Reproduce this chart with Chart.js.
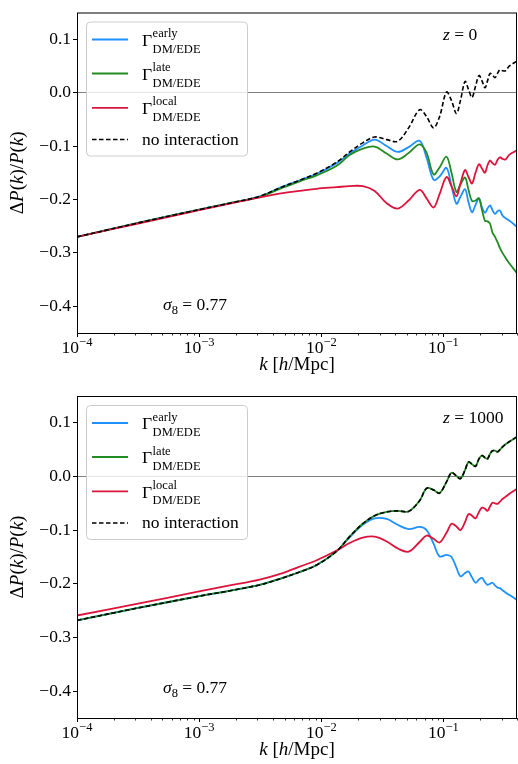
<!DOCTYPE html>
<html>
<head>
<meta charset="utf-8">
<script src="https://cdn.jsdelivr.net/npm/chart.js@4.4.1/dist/chart.umd.min.js"></script>
<style>
  body { margin: 0; background: #fff; }
  canvas { display: block; }
</style>
</head>
<body>
<canvas id="chart_z0" width="518" height="382"></canvas>
<canvas id="chart_z1000" width="518" height="382"></canvas>
<script>
/* data: k [h/Mpc] and dP/P for each curve */
const kVals = [0.0001, 0.000316, 0.001, 0.00178, 0.00313, 0.00483, 0.00665, 0.00916, 0.01337, 0.01706,
  0.02183, 0.02735, 0.03428, 0.04217, 0.05188, 0.06383, 0.07278, 0.08299, 0.0929, 0.1059,
  0.1164, 0.1277, 0.1377, 0.1502, 0.1603, 0.1713, 0.183, 0.1954, 0.2068, 0.2188,
  0.2294, 0.2404, 0.2519, 0.2642, 0.2769, 0.2901, 0.3042, 0.322, 0.3471, 0.4];

// z = 0
const early_z0 = [-0.270, -0.244, -0.219, -0.207, -0.194, -0.176, -0.164, -0.152, -0.132, -0.114,
  -0.099, -0.088, -0.100, -0.111, -0.102, -0.090, -0.122, -0.163, -0.157, -0.141,
  -0.175, -0.208, -0.195, -0.181, -0.205, -0.224, -0.210, -0.198, -0.215, -0.225,
  -0.217, -0.211, -0.220, -0.227, -0.222, -0.221, -0.230, -0.235, -0.240, -0.251];
const late_z0 = [-0.270, -0.244, -0.219, -0.207, -0.195, -0.178, -0.166, -0.155, -0.137, -0.117,
  -0.105, -0.101, -0.114, -0.125, -0.113, -0.097, -0.113, -0.153, -0.140, -0.120,
  -0.150, -0.186, -0.172, -0.159, -0.182, -0.203, -0.202, -0.198, -0.220, -0.240,
  -0.241, -0.245, -0.262, -0.270, -0.280, -0.291, -0.300, -0.309, -0.320, -0.338];
const local_z0 = [-0.270, -0.245, -0.220, -0.208, -0.196, -0.188, -0.184, -0.180, -0.177, -0.175,
  -0.175, -0.184, -0.207, -0.217, -0.202, -0.182, -0.198, -0.215, -0.190, -0.158,
  -0.175, -0.194, -0.170, -0.145, -0.158, -0.170, -0.150, -0.134, -0.142, -0.150,
  -0.136, -0.127, -0.132, -0.135, -0.126, -0.121, -0.124, -0.125, -0.116, -0.108];
const none_z0 = [-0.270, -0.244, -0.219, -0.207, -0.194, -0.176, -0.164, -0.151, -0.130, -0.111,
  -0.094, -0.083, -0.088, -0.091, -0.066, -0.032, -0.045, -0.066, -0.045, 0.001,
  -0.015, -0.039, -0.015, 0.021, 0.006, -0.009, 0.012, 0.032, 0.022, 0.009,
  0.022, 0.036, 0.033, 0.028, 0.036, 0.043, 0.041, 0.041, 0.050, 0.059];

// z = 1000
const early_z1000 = [-0.268, -0.245, -0.223, -0.213, -0.202, -0.189, -0.178, -0.165, -0.139, -0.113,
  -0.090, -0.078, -0.079, -0.090, -0.098, -0.094, -0.100, -0.125, -0.149, -0.146,
  -0.150, -0.170, -0.186, -0.180, -0.177, -0.188, -0.198, -0.192, -0.189, -0.197,
  -0.202, -0.200, -0.198, -0.203, -0.207, -0.208, -0.212, -0.216, -0.221, -0.230];
const late_z1000 = [-0.268, -0.245, -0.223, -0.213, -0.202, -0.189, -0.178, -0.165, -0.139, -0.112,
  -0.088, -0.073, -0.066, -0.064, -0.065, -0.045, -0.022, -0.025, -0.031, -0.010,
  0.007, 0.001, -0.004, 0.012, 0.027, 0.023, 0.019, 0.033, 0.039, 0.035,
  0.033, 0.042, 0.048, 0.048, 0.046, 0.050, 0.055, 0.060, 0.065, 0.074];
const local_z1000 = [-0.259, -0.237, -0.214, -0.203, -0.192, -0.180, -0.168, -0.156, -0.138, -0.124,
  -0.114, -0.112, -0.121, -0.134, -0.140, -0.122, -0.110, -0.116, -0.123, -0.105,
  -0.088, -0.093, -0.100, -0.085, -0.070, -0.073, -0.078, -0.066, -0.058, -0.060,
  -0.064, -0.056, -0.049, -0.050, -0.051, -0.047, -0.042, -0.038, -0.032, -0.023];
const none_z1000 = [-0.268, -0.245, -0.223, -0.213, -0.202, -0.189, -0.178, -0.165, -0.139, -0.112,
  -0.088, -0.073, -0.066, -0.064, -0.065, -0.045, -0.022, -0.025, -0.031, -0.010,
  0.007, 0.001, -0.004, 0.012, 0.027, 0.023, 0.019, 0.033, 0.039, 0.035,
  0.033, 0.042, 0.048, 0.048, 0.046, 0.050, 0.055, 0.060, 0.065, 0.074];

const yTickVals = [-0.4, -0.3, -0.2, -0.1, 0, 0.1];
const xMajorVals = [1e-4, 1e-3, 1e-2, 1e-1];
const xMajorExp = ['\u22124', '\u22123', '\u22122', '\u22121'];
const legendSup = ['early', 'late', 'local'];

const SERIF = "'Liberation Serif', 'DejaVu Serif', serif";
const BLUE = '#1E90FF', GREEN = '#228B22', RED = '#DC143C';
const F = (size, italic) => (italic ? 'italic ' : '') + size + 'px ' + SERIF;

// minor ticks 2..9 x 10^n inside the axis range
var xTickVals = [];
xMajorVals.forEach(function (m) {
  for (var j = 1; j <= 9; j++) {
    var v = +(m * j).toPrecision(3);
    if (v <= 0.4) xTickVals.push(v);
  }
});

function toXY(arr) {
  return kVals.map((k, i) => ({ x: k, y: arr[i] }));
}

// draw runs of text one after another: [text, font, dy]
function drawRuns(ctx, runs, x, y, center) {
  var w = 0;
  runs.forEach(r => { ctx.font = r[1]; w += ctx.measureText(r[0]).width; });
  var cx = center ? x - w / 2 : x;
  runs.forEach(r => {
    ctx.font = r[1];
    ctx.fillText(r[0], cx, y + (r[2] || 0));
    cx += ctx.measureText(r[0]).width;
  });
}

const panelDecor = {
  id: 'panelDecor',
  afterDraw(chart, args, opts) {
    const ctx = chart.ctx;
    const a = chart.chartArea;
    const xs = chart.scales.x;
    ctx.save();
    ctx.fillStyle = '#000';
    ctx.strokeStyle = '#000';
    ctx.textBaseline = 'alphabetic';
    ctx.textAlign = 'left';

    // frame
    ctx.lineWidth = 1;
    ctx.strokeRect(a.left + 0.5, a.top + 0.5, a.right - a.left - 1, a.bottom - a.top);

    // x ticks
    xTickVals.forEach(v => {
      var px = Math.round(xs.getPixelForValue(v)) + 0.5;
      var major = xMajorVals.indexOf(v) >= 0;
      ctx.lineWidth = major ? 1 : 0.8;
      ctx.beginPath();
      ctx.moveTo(px, a.bottom);
      ctx.lineTo(px, a.bottom + (major ? 4 : 2.5));
      ctx.stroke();
    });
    xMajorVals.forEach((v, i) => {
      var px = xs.getPixelForValue(v);
      drawRuns(ctx, [['10', F(17.5), 0], [xMajorExp[i], F(12.5), -7]], px, a.bottom + 20, true);
    });

    // axis titles
    drawRuns(ctx, [['k', F(19, true)], [' [', F(19)], ['h', F(19, true)], ['/Mpc]', F(19)]],
      (a.left + a.right) / 2, a.bottom + 37, true);
    ctx.save();
    ctx.translate(23, (a.top + a.bottom) / 2);
    ctx.rotate(-Math.PI / 2);
    drawRuns(ctx, [['\u0394', F(19)], ['P', F(19, true)], ['(', F(19)], ['k', F(19, true)], [')/', F(19)],
      ['P', F(19, true)], ['(', F(19)], ['k', F(19, true)], [')', F(19)]], 0, 0, true);
    ctx.restore();

    // annotations
    drawRuns(ctx, [['z', F(17.5, true)], [' = ' + opts.zLabel, F(17.5)]], a.left + 366, a.top + 27);
    drawRuns(ctx, [['\u03c3', F(17.5, true)], ['8', F(12.5), 4], [' = 0.77', F(17.5)]], a.left + 86, a.top + 297);

    // legend
    var bx = a.left + 9, by = a.top + 9, bw = 161, bh = 134, r = 4;
    ctx.beginPath();
    ctx.roundRect(bx + 0.5, by + 0.5, bw, bh, r);
    ctx.fillStyle = 'rgba(255,255,255,0.8)';
    ctx.fill();
    ctx.strokeStyle = '#cccccc';
    ctx.lineWidth = 1;
    ctx.stroke();

    var rows = [27, 61, 95.3, 127];
    var cols = [BLUE, GREEN, RED];
    ctx.fillStyle = '#000';
    rows.forEach((ry, i) => {
      var ly = a.top + ry;
      ctx.beginPath();
      ctx.strokeStyle = i < 3 ? cols[i] : '#000';
      ctx.lineWidth = i < 3 ? 1.8 : 1.6;
      ctx.setLineDash(i < 3 ? [] : [4.5, 2.5]);
      ctx.moveTo(a.left + 15, ly);
      ctx.lineTo(a.left + 51, ly);
      ctx.stroke();
      ctx.setLineDash([]);
      var tx = a.left + 65;
      if (i < 3) {
        ctx.font = F(17.5);
        ctx.fillText('\u0393', tx, ly + 6.3);
        var gx = tx + ctx.measureText('\u0393').width + 0.5;
        ctx.font = F(12.5);
        ctx.fillText(legendSup[i], gx, ly - 2.5);
        ctx.fillText('DM/EDE', gx, ly + 13);
      } else {
        ctx.font = F(17.5);
        ctx.fillText('no interaction', tx, ly + 5);
      }
    });
    ctx.restore();
  }
};

function makePanel(id, early, late, local, none, zLabel, padTop, xh) {
  return new Chart(document.getElementById(id), {
    type: 'line',
    data: {
      datasets: [
        { label: 'no interaction', data: toXY(none), borderColor: '#000', borderDash: [4.5, 2.5], borderWidth: 1.6, order: 1 },
        { label: 'local', data: toXY(local), borderColor: RED, borderWidth: 1.8, order: 2 },
        { label: 'late', data: toXY(late), borderColor: GREEN, borderWidth: 1.8, order: 3 },
        { label: 'early', data: toXY(early), borderColor: BLUE, borderWidth: 1.8, order: 4 }
      ]
    },
    options: {
      responsive: false,
      animation: false,
      layout: { padding: { top: padTop, right: 1, left: 0, bottom: 0 } },
      elements: {
        point: { radius: 0 },
        line: { tension: 0.35, fill: false }
      },
      plugins: {
        legend: { display: false },
        tooltip: { enabled: false },
        panelDecor: { zLabel: zLabel }
      },
      scales: {
        x: {
          type: 'logarithmic',
          min: 1e-4,
          max: 0.4,
          grid: { display: false },
          border: { display: false },
          ticks: { display: false },
          afterBuildTicks: s => { s.ticks = xTickVals.map(v => ({ value: v })); },
          afterFit: s => { s.height = xh; }
        },
        y: {
          min: -0.45,
          max: 0.15,
          afterBuildTicks: s => { s.ticks = yTickVals.map(v => ({ value: v })); },
          ticks: {
            color: '#000',
            padding: 2,
            font: { family: SERIF, size: 17.5 },
            callback: v => (v < 0 ? '\u2212' : '') + Math.abs(v).toFixed(1)
          },
          grid: {
            color: c => (c.tick && c.tick.value === 0) ? '#808080' : 'rgba(0,0,0,0)',
            tickColor: '#000',
            tickLength: 4,
            lineWidth: 1
          },
          border: { display: false },
          afterFit: s => { s.width = 77; }
        }
      }
    },
    plugins: [panelDecor]
  });
}

var chart_z0 = makePanel('chart_z0', early_z0, late_z0, local_z0, none_z0, '0', 10, 49);
var chart_z1000 = makePanel('chart_z1000', early_z1000, late_z1000, local_z1000, none_z1000, '1000', 14, 46);
</script>
</body>
</html>
